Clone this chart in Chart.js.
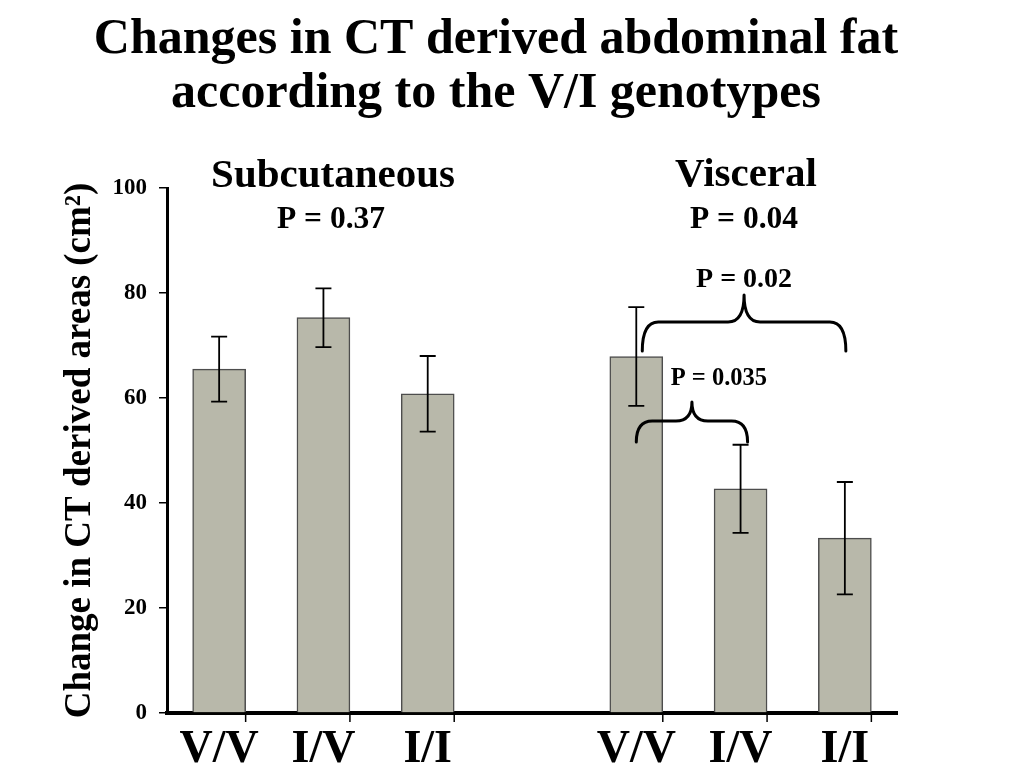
<!DOCTYPE html>
<html lang="en">
<head>
<meta charset="UTF-8"/>
<title>Changes in CT derived abdominal fat</title>
<script src="https://cdn.jsdelivr.net/npm/chart.js@4.4.2/dist/chart.umd.min.js"></script>
<style>
body{margin:0;background:#fff}
canvas{display:block}
</style>
</head>
<body>
<canvas id="chart" width="1031" height="781"></canvas>
<script>
// genotype groups (gap slot between the two panels)
const genotypes=["V/V","I/V","I/I"];
const subMeans=[65.5,75.3,60.8];
const subErr=[6.2,5.6,7.2];
const visMeans=[67.9,42.7,33.3];
const visErr=[9.4,8.4,10.7];
const yTicks=[0,20,40,60,80,100];
// brackets: from bar index, to bar index, level (cm2), label
const brFrom=[4,4], brTo=[6,5], brLevel=[74.5,55.6], brLabel=["P = 0.02","P = 0.035"];

const labels=[...genotypes,"",...genotypes];
const means=[...subMeans,null,...visMeans];
const errs=[...subErr,null,...visErr];
const serif='"Liberation Serif","Times New Roman",serif';

const extras={
  id:"extras",
  afterDatasetsDraw(chart){
    const ctx=chart.ctx, y=chart.scales.y, area=chart.chartArea;
    const bars=chart.getDatasetMeta(0).data;
    ctx.save();
    ctx.strokeStyle="#000";
    // error bars
    ctx.lineWidth=1.8;
    means.forEach((m,i)=>{
      if(m==null) return;
      const x=bars[i].x, hi=y.getPixelForValue(m+errs[i]), lo=y.getPixelForValue(m-errs[i]);
      ctx.beginPath();
      ctx.moveTo(x,hi);ctx.lineTo(x,lo);
      ctx.moveTo(x-8,hi);ctx.lineTo(x+8,hi);
      ctx.moveTo(x-8,lo);ctx.lineTo(x+8,lo);
      ctx.stroke();
    });
    // x tick marks at the right edge of every bar
    ctx.lineWidth=1.5;
    means.forEach((m,i)=>{
      if(m==null) return;
      const x=bars[i].x+bars[i].width/2;
      ctx.beginPath();ctx.moveTo(x,area.bottom);ctx.lineTo(x,area.bottom+9);ctx.stroke();
    });
    // curly brackets
    ctx.lineWidth=3;ctx.lineCap="round";
    brFrom.forEach((f,k)=>{
      const x1=bars[f].x+(k===0?6:0), x2=bars[brTo[k]].x+(k===0?1:7), xm=(x1+x2)/2;
      const yh=y.getPixelForValue(brLevel[k]);
      const d=k===0?29:21;
      const yEnd=yh+d, yPeak=yh-d+2, r=16;
      ctx.beginPath();
      ctx.moveTo(x1,yEnd);ctx.quadraticCurveTo(x1,yh,x1+r,yh);ctx.lineTo(xm-r,yh);ctx.quadraticCurveTo(xm,yh,xm,yPeak);
      ctx.moveTo(x2,yEnd);ctx.quadraticCurveTo(x2,yh,x2-r,yh);ctx.lineTo(xm+r,yh);ctx.quadraticCurveTo(xm,yh,xm,yPeak);
      ctx.stroke();
      ctx.fillStyle="#000";ctx.textAlign="center";ctx.textBaseline="alphabetic";
      ctx.font=(k===0?"bold 28px ":"bold 24.5px ")+serif;
      ctx.fillText(brLabel[k],k===0?xm:xm+27,yPeak-(k===0?8:17));
    });
    ctx.restore();
  },
  afterDraw(chart){
    const ctx=chart.ctx;
    ctx.save();
    ctx.fillStyle="#000";ctx.textAlign="center";ctx.textBaseline="alphabetic";
    ctx.font="bold 50px "+serif;
    ctx.fillText("Changes in CT derived abdominal fat",496,53);
    ctx.fillText("according to the V/I genotypes",496,107);
    ctx.font="bold 41px "+serif;
    ctx.fillText("Subcutaneous",333,187);
    ctx.fillText("Visceral",746,186);
    ctx.font="bold 31.5px "+serif;
    ctx.fillText("P = 0.37",331,228);
    ctx.fillText("P = 0.04",744,228);
    ctx.restore();
  }
};

new Chart(document.getElementById("chart").getContext("2d"),{
  type:"bar",
  data:{labels,datasets:[{data:means,backgroundColor:"#b8b8aa",borderColor:"#4d4d4d",borderWidth:1.5,barThickness:53}]},
  options:{
    responsive:false,animation:false,
    layout:{padding:{top:188,right:134,left:0,bottom:0}},
    plugins:{legend:{display:false},tooltip:{enabled:false}},
    scales:{
      x:{
        grid:{display:false},
        border:{display:true,color:"#000",width:4},
        ticks:{color:"#000",font:{family:serif,size:46,weight:"bold"},padding:2,maxRotation:0,autoSkip:false},
        afterFit(s){s.height=68;}
      },
      y:{
        min:0,max:100,
        afterBuildTicks(s){s.ticks=yTicks.map(v=>({value:v}));},
        grid:{drawOnChartArea:false,drawTicks:true,tickLength:8,color:"#000",lineWidth:1.5},
        border:{display:true,color:"#000",width:3},
        ticks:{color:"#000",font:{family:serif,size:23,weight:"bold"},padding:12},
        title:{display:true,text:"Change in CT derived areas (cm\u00B2)",color:"#000",font:{family:serif,size:37,weight:"bold"},padding:{top:58,bottom:0}},
        afterFit(s){s.width=167;}
      }
    }
  },
  plugins:[extras]
});
</script>
</body>
</html>
